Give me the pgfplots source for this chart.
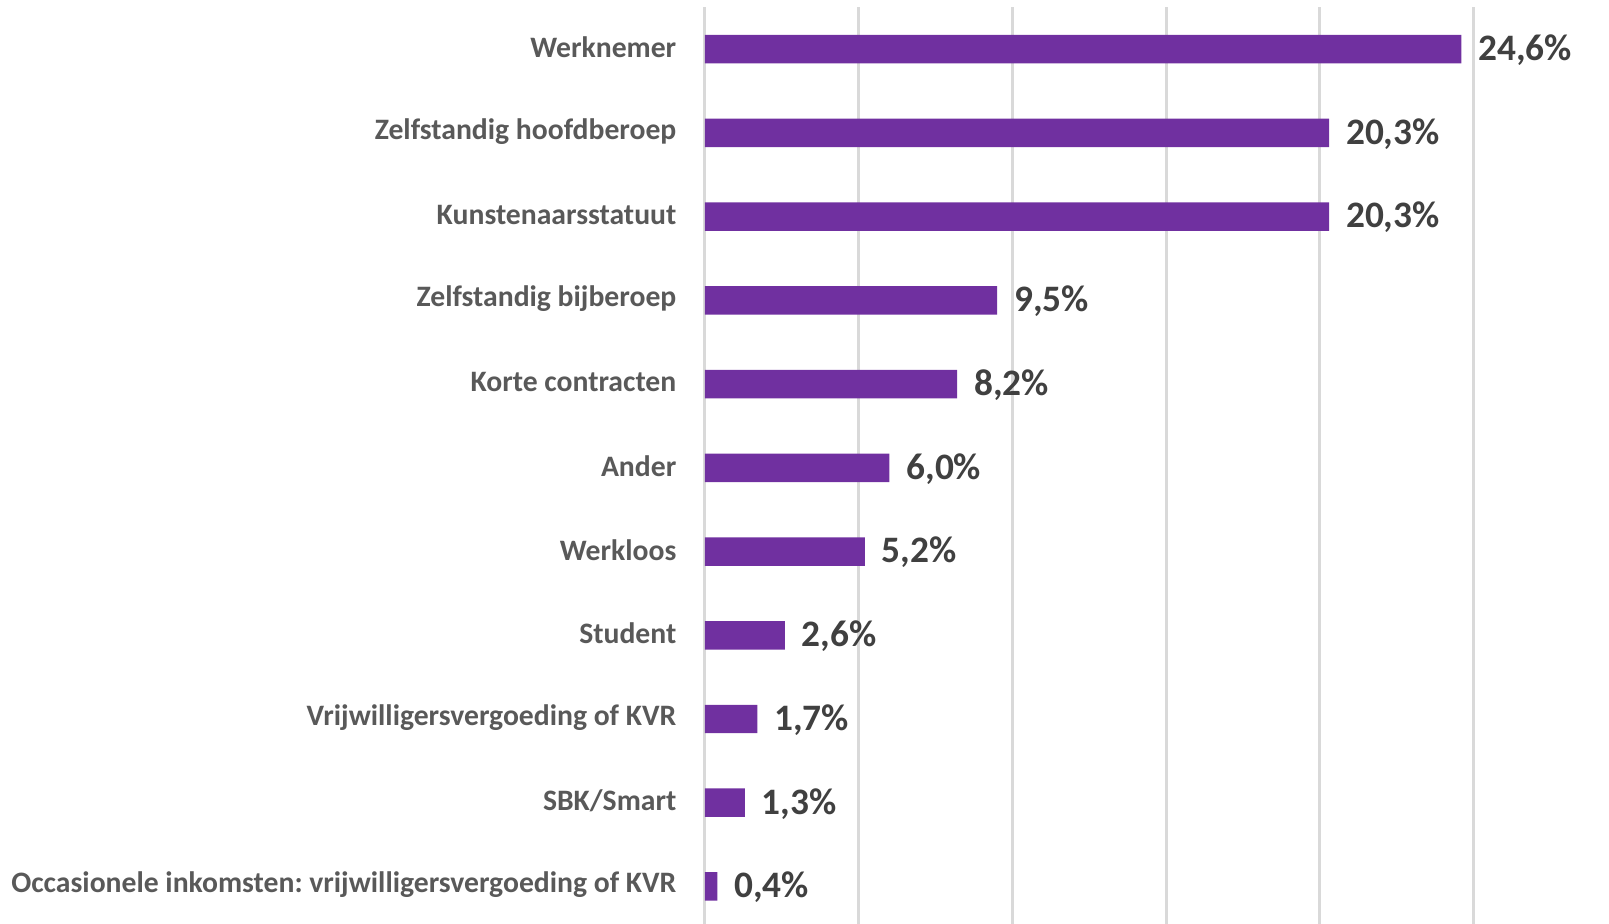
\documentclass[border=0pt]{standalone}
\usepackage{fontspec}
\setmainfont{Carlito}
\usepackage{pgfplots}
\pgfplotsset{compat=1.18}
\definecolor{barpurple}{HTML}{7030A0}
\definecolor{catgray}{HTML}{595959}
\definecolor{valgray}{HTML}{404040}
\definecolor{gridgray}{HTML}{D9D9D9}
\frenchspacing
\begin{document}
\begin{tikzpicture}
\useasboundingbox (-211.5pt,1.3pt) rectangle (271.2pt,278.5pt);
\begin{axis}[
  at={(0,0)}, anchor=south west,
  scale only axis,
  width=230.6pt, height=276.3pt,
  xbar, bar width=0.34,
  xmin=0, xmax=25,
  ymin=-0.5, ymax=10.5,
  y dir=reverse,
  xtick={0,5,10,15,20,25},
  xticklabels={},
  xmajorgrids,
  grid style={gridgray, line width=0.9pt},
  axis line style={draw=none},
  major tick length=0pt,
  ytick={0,...,10},
  yticklabels={Werknemer,Zelfstandig hoofdberoep,Kunstenaarsstatuut,Zelfstandig bijberoep,Korte contracten,Ander,Werkloos,Student,Vrijwilligersvergoeding of KVR,SBK/Smart,Occasionele inkomsten: vrijwilligersvergoeding of KVR},
  yticklabel style={font=\fontsize{8.9}{11}\selectfont\bfseries, text=catgray, anchor=east, inner sep=0pt, xshift=-8.4pt, yshift=0.5pt},
  /pgf/number format/assume math mode=true,
  nodes near coords={\pgfmathprintnumber[fixed,fixed zerofill,precision=1,use comma]{\pgfplotspointmeta}\%},
  nodes near coords style={font=\fontsize{11.2}{13}\selectfont\bfseries, text=valgray, anchor=west, inner sep=0pt, xshift=4.9pt, yshift=-0.3pt},
  clip=false,
]
\addplot[fill=barpurple, draw=none] coordinates {
(24.6,0) (20.3,1) (20.3,2) (9.5,3) (8.2,4) (6.0,5) (5.2,6) (2.6,7) (1.7,8) (1.3,9) (0.4,10)};
\end{axis}
\end{tikzpicture}
\end{document}
